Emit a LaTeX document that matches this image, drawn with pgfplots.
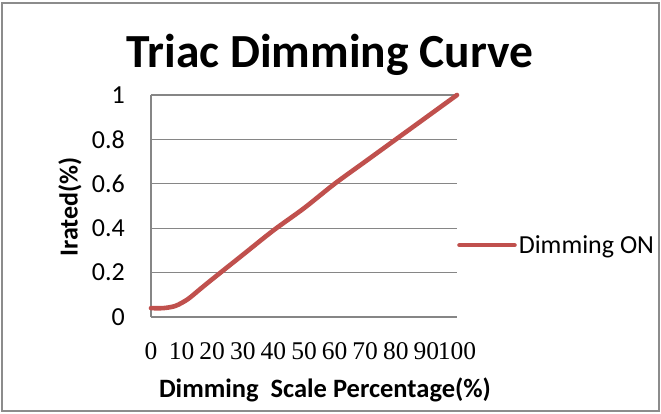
\documentclass[border=0pt]{standalone}
\usepackage{fontspec}
\setmainfont{Carlito}
\newfontfamily\timesfont{Liberation Serif}
\usepackage{pgfplots}
\pgfplotsset{compat=1.18}
\definecolor{exred}{HTML}{C0504D}
\definecolor{gridgray}{HTML}{868686}
\definecolor{bordergray}{HTML}{8C8C8C}
\begin{document}
\begin{tikzpicture}[x=1pt,y=1pt]
\useasboundingbox (-151,-97) rectangle (510,317);
\draw[bordergray, line width=1.5pt] (-149,-94) rectangle (508,314);
\begin{axis}[
  at={(0,0)}, anchor=south west,
  scale only axis, width=306pt, height=222pt,
  xmin=0, xmax=100, ymin=0, ymax=1,
  xtick={0,10,...,100}, ytick={0,0.2,...,1},
  yticklabels={0,0.2,0.4,0.6,0.8,1},
  axis x line*=bottom, axis y line*=left,
  axis line style={gridgray, line width=1.2pt, -},
  ymajorgrids, grid style={gridgray, line width=1.2pt},
  major tick length=0pt,
  /pgf/number format/assume math mode=true,
  yticklabel style={font=\fontsize{26}{26}\selectfont, anchor=east, inner sep=0pt, xshift=-26pt},
  xticklabel style={font=\fontsize{25.5}{25.5}\timesfont, anchor=north, inner sep=0pt, yshift=-25pt},
  legend style={at={(rel axis cs:1,0.324)}, anchor=west, draw=none, fill=none,
    inner xsep=0pt, inner ysep=0pt, font=\fontsize{26}{26}\selectfont,
    legend cell align=left},
  legend image code/.code={\draw[#1] (0pt,0pt) -- (55pt,0pt);},
  clip=false,
]
\addplot[exred, line width=4.6pt, smooth, line cap=round] coordinates {
 (0,0.04) (4,0.04) (8,0.05) (12,0.08) (16,0.125) (20,0.17) (30,0.28) (40,0.39) (50,0.49)
 (60,0.60) (70,0.70) (80,0.80) (90,0.90) (100,1.0)
};
\addlegendentry{Dimming ON}
\end{axis}
\node[anchor=base, font=\fontsize{47.5}{47.5}\selectfont\bfseries] at (179,249) {Triac Dimming Curve};
\node[rotate=90, font=\fontsize{26}{26}\selectfont\bfseries] at (-81,110) {Irated(\%)};
\node[font=\fontsize{26.5}{26.5}\selectfont\bfseries] at (174,-73) {Dimming\ \ Scale Percentage(\%)};
\end{tikzpicture}
\end{document}
